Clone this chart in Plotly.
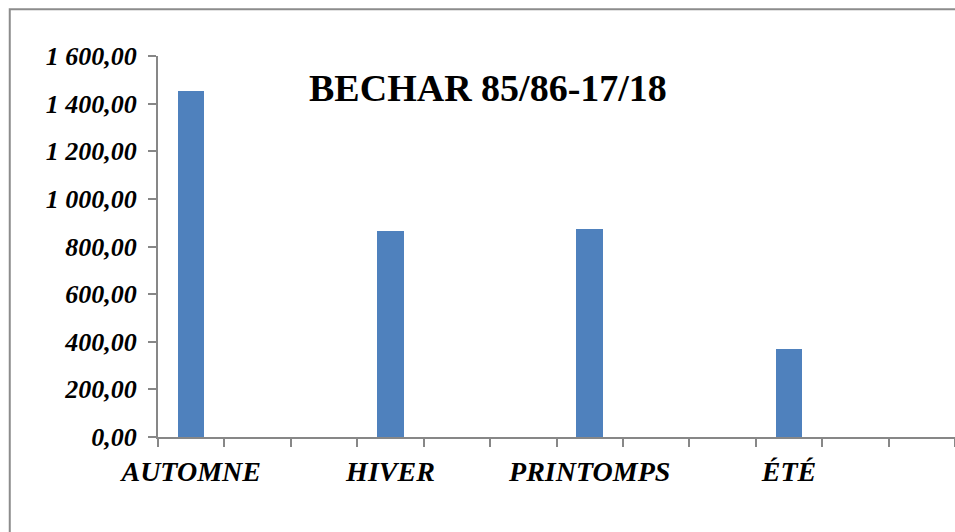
import plotly.graph_objects as go

# Données saisonnières (pluie cumulée)
seasons = ["AUTOMNE", "HIVER", "PRINTOMPS", "ÉTÉ"]
values = [1454, 866, 875, 371]
y_ticks = [0, 200, 400, 600, 800, 1000, 1200, 1400, 1600]
title_text = "BECHAR 85/86-17/18"

# l'axe d'origine compte 12 catégories, une étiquette tous les 3 crans
n_slots = 12
step = 3
x_pos = [i * step for i in range(len(seasons))]

axis_gray = "#878787"
font_serif = "Liberation Serif, Times New Roman, serif"

fig = go.Figure()
fig.add_trace(go.Bar(
    x=x_pos,
    y=values,
    width=0.4,
    marker=dict(color="#4F81BD", line=dict(width=0)),
    showlegend=False,
    hoverinfo="y",
))

fig.update_xaxes(
    range=[-0.5, n_slots - 0.5],
    tickvals=x_pos,
    ticktext=seasons,
    ticks="",
    showline=True,
    linecolor=axis_gray,
    linewidth=2,
    showgrid=False,
    zeroline=False,
    ticklabelstandoff=8,
    tickfont=dict(family=font_serif, size=28, color="black",
                  weight="bold", style="italic"),
    minor=dict(
        tickvals=[i - 0.5 for i in range(n_slots + 1)],
        ticks="outside",
        ticklen=8,
        tickwidth=2,
        tickcolor=axis_gray,
        showgrid=False,
    ),
)

fig.update_yaxes(
    range=[0, 1600],
    tickvals=y_ticks,
    tickformat=",.2f",
    ticks="outside",
    ticklen=8,
    tickwidth=2,
    tickcolor=axis_gray,
    showline=True,
    linecolor=axis_gray,
    linewidth=2,
    showgrid=False,
    zeroline=False,
    ticklabelstandoff=6,
    tickfont=dict(family=font_serif, size=26, color="black",
                  weight="bold", style="italic"),
)

# cadre de la zone graphique (coupé à droite et en bas)
fig.add_shape(
    type="rect", xref="paper", yref="paper",
    x0=-0.186, y0=-0.6, x1=1.3, y1=1.123,
    line=dict(color="#8C8C8C", width=2),
    fillcolor="rgba(0,0,0,0)",
    layer="below",
)

fig.update_layout(
    width=955,
    height=532,
    separators=", ",
    title=dict(
        text=title_text,
        x=0.414, xref="paper", xanchor="center",
        y=1 - 88 / 532, yref="container", yanchor="middle",
        font=dict(family=font_serif, size=38, color="black", weight="bold"),
    ),
    margin=dict(l=158, r=0, t=56, b=95),
    paper_bgcolor="white",
    plot_bgcolor="white",
    bargap=0,
)

# pas de marge de page ni de barres de défilement
fig.write_html(
    "out.html",
    config={"displayModeBar": False},
    post_script="document.body.style.margin='0';"
                "document.body.style.overflow='hidden';",
)
